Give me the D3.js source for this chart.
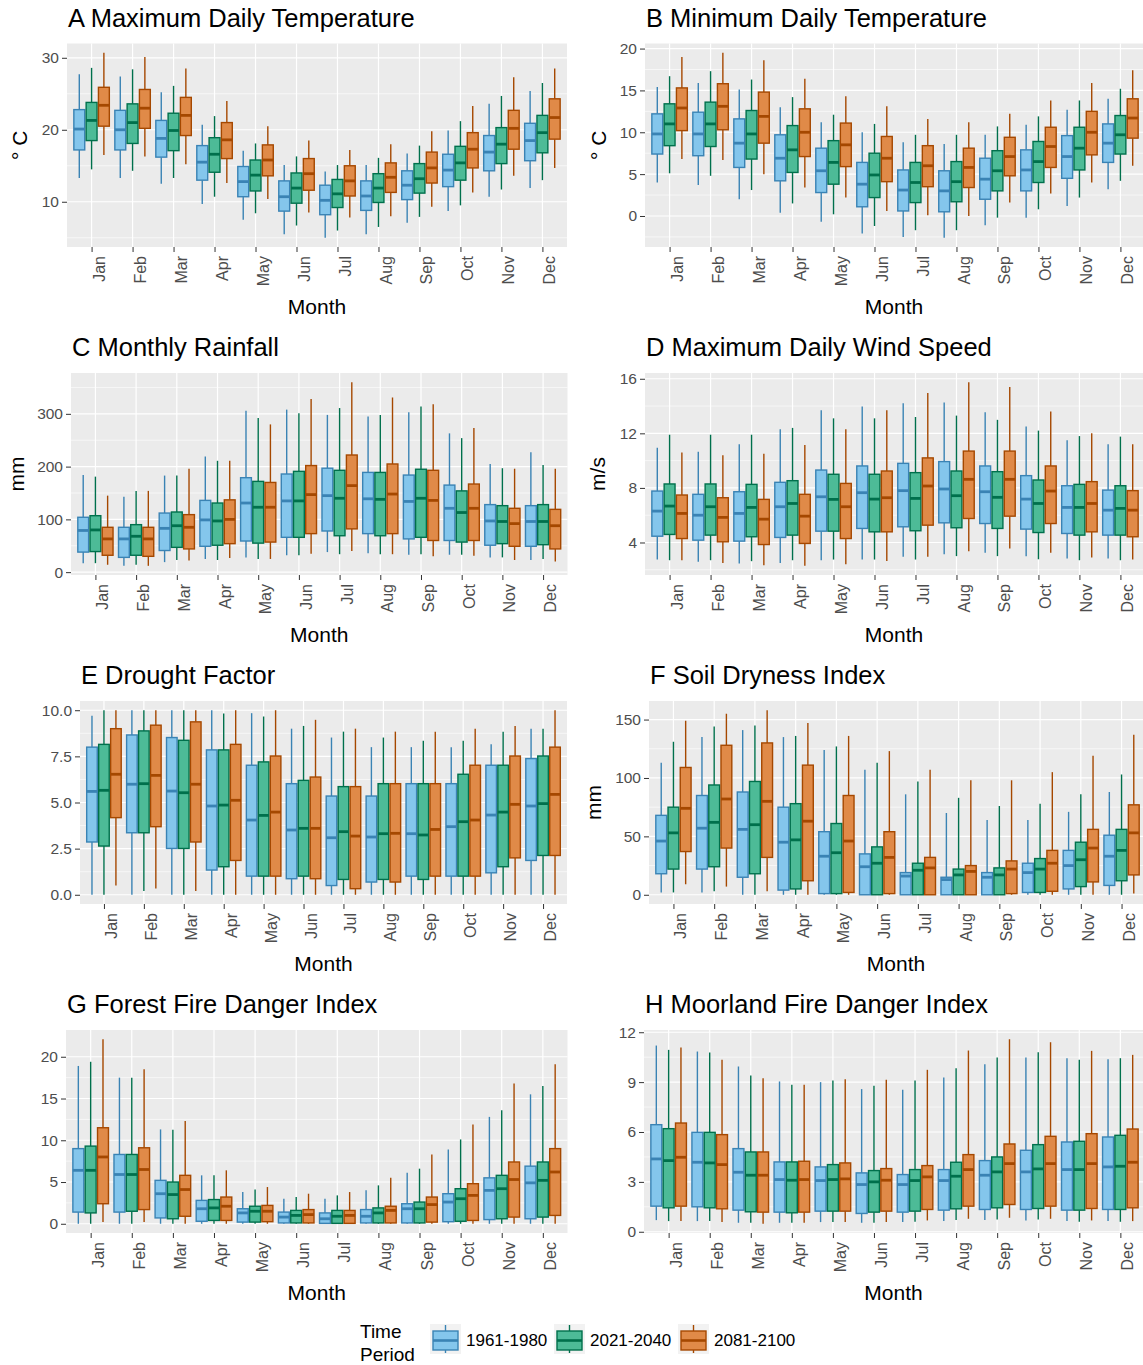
<!DOCTYPE html>
<html>
<head>
<meta charset="utf-8">
<script src="https://cdn.jsdelivr.net/npm/d3@7"></script>
<style>
body { margin: 0; background: #fff; }
text { font-family: "Liberation Sans", Arial, Helvetica, sans-serif; }
</style>
</head>
<body>
<script>
const months = ["Jan","Feb","Mar","Apr","May","Jun","Jul","Aug","Sep","Oct","Nov","Dec"];
const periods = ["1961-1980","2021-2040","2081-2100"];

// every box is [min, q1, median, q3, max], 12 months per period
const tmax = [
  [[13.3,17.2,20.1,22.8,27.7],[13.3,17.2,20.0,22.7,27.4],[12.5,16.2,18.8,21.3,25.2],[9.7,13.0,15.5,17.8,20.7],[7.5,10.7,12.8,14.9,17.1],[5.5,8.7,10.7,12.9,15.1],[5.0,8.2,10.2,12.3,14.2],[5.5,8.8,10.8,12.9,15.1],[7.1,10.3,12.3,14.3,16.7],[8.7,12.1,14.4,16.6,19.9],[10.7,14.3,16.9,19.2,23.6],[11.9,15.7,18.5,20.9,25.4]],
  [[14.5,18.5,21.3,23.8,28.6],[14.3,18.1,21.0,23.6,28.4],[13.3,17.1,19.9,22.3,26.1],[10.7,14.1,16.6,18.9,21.9],[8.4,11.5,13.7,15.8,18.1],[6.7,9.8,11.9,14.0,16.3],[6.0,9.2,11.1,13.1,15.1],[6.5,9.9,11.9,13.9,16.1],[7.9,11.2,13.2,15.3,17.8],[9.5,13.0,15.4,17.7,21.2],[11.7,15.3,18.0,20.3,24.7],[13.0,16.8,19.6,22.0,26.5]],
  [[16.5,20.5,23.4,25.9,30.7],[16.3,20.2,23.0,25.6,30.1],[15.2,19.2,22.0,24.5,28.5],[12.6,16.0,18.6,21.0,24.0],[10.4,13.6,15.8,17.9,20.5],[8.5,11.6,13.9,16.0,18.5],[7.8,10.8,12.9,15.0,17.2],[8.0,11.3,13.4,15.4,18.0],[9.3,12.6,14.7,16.9,19.8],[11.3,14.7,17.3,19.6,23.3],[13.6,17.3,20.2,22.7,27.3],[14.7,18.7,21.7,24.3,28.5]]
];
const tmin = [
  [[4.0,7.4,9.8,12.2,15.4],[3.7,7.2,9.8,12.4,15.9],[2.0,5.8,8.7,11.6,15.1],[0.4,4.2,6.9,9.7,13.0],[-0.7,2.8,5.4,8.1,11.2],[-2.1,1.1,3.8,6.4,10.0],[-2.5,0.6,3.1,5.5,8.8],[-2.6,0.5,3.0,5.4,8.6],[-1.1,2.0,4.4,6.9,9.7],[-0.2,3.0,5.5,7.9,10.9],[1.2,4.5,7.1,9.6,12.7],[3.2,6.4,8.7,11.0,14.0]],
  [[5.1,8.4,11.0,13.4,16.7],[4.8,8.3,11.0,13.6,17.3],[3.1,6.8,9.8,12.6,16.3],[1.5,5.2,7.9,10.8,14.2],[0.2,3.8,6.4,9.0,12.1],[-1.2,2.2,4.9,7.5,11.0],[-1.7,1.6,4.0,6.4,9.7],[-1.7,1.7,4.1,6.5,9.7],[-0.2,3.0,5.4,7.8,10.7],[0.8,4.0,6.5,8.9,11.9],[2.2,5.5,8.1,10.6,13.8],[4.2,7.4,9.7,12.0,15.2]],
  [[6.8,10.2,12.9,15.3,19.0],[6.7,10.3,13.1,15.8,19.5],[5.0,8.7,11.9,14.8,18.6],[3.4,7.1,10.0,12.8,16.4],[2.2,5.9,8.5,11.1,14.3],[0.6,4.1,6.9,9.5,13.1],[0.1,3.5,6.0,8.4,11.6],[0.0,3.4,5.8,8.1,11.2],[1.6,4.8,7.1,9.4,12.2],[2.7,5.8,8.3,10.6,13.8],[4.0,7.3,10.0,12.5,15.9],[6.0,9.3,11.7,14.0,17.4]]
];
const rain = [
  [[17,38,79,104,184],[12,28,63,85,143],[19,41,83,112,183],[25,49,99,136,219],[28,59,131,179,306],[32,66,135,186,308],[38,78,145,197,298],[36,73,139,189,295],[33,63,134,184,303],[33,60,121,165,263],[28,51,97,128,205],[23,49,96,126,227]],
  [[17,39,80,107,181],[14,32,68,90,154],[23,47,88,114,183],[23,51,97,131,211],[25,55,123,172,292],[32,66,135,191,301],[34,69,140,193,311],[34,69,138,189,298],[34,66,140,195,314],[33,57,113,154,254],[28,54,96,126,197],[25,52,96,128,203]],
  [[14,32,63,85,145],[12,30,63,85,154],[22,44,85,109,196],[27,54,100,137,211],[25,57,123,170,280],[35,73,147,202,328],[40,82,164,222,360],[34,73,148,205,331],[30,60,136,193,318],[31,60,121,167,273],[23,49,92,121,196],[20,44,88,119,196]]
];
const wind = [
  [[2.75,4.46,6.30,7.77,10.95],[2.58,4.17,6.0,7.53,10.66],[2.46,4.10,6.13,7.72,11.2],[2.5,4.37,6.62,8.41,12.3],[2.7,4.83,7.35,9.31,13.7],[2.75,5.03,7.65,9.61,13.97],[2.95,5.15,7.80,9.80,14.2],[3.14,5.44,7.92,9.93,14.26],[3.24,5.39,7.72,9.61,13.55],[3.0,4.98,7.18,8.9,12.5],[2.82,4.66,6.57,8.16,11.5],[2.82,4.54,6.37,7.84,11.2]],
  [[2.7,4.59,6.67,8.29,11.9],[2.7,4.54,6.62,8.29,11.9],[2.63,4.42,6.57,8.26,11.9],[2.7,4.54,6.86,8.53,12.4],[2.75,4.83,7.16,9.0,13.1],[2.75,4.78,7.18,9.0,13.1],[2.75,4.86,7.23,9.12,13.2],[3.0,5.08,7.43,9.24,13.3],[3.0,5.03,7.31,9.19,12.99],[2.77,4.73,6.86,8.58,12.2],[2.7,4.54,6.57,8.26,11.8],[2.7,4.54,6.5,8.16,11.76]],
  [[2.7,4.29,6.13,7.48,10.6],[2.5,4.05,5.84,7.28,10.4],[2.33,3.85,5.71,7.16,10.5],[2.29,3.93,5.93,7.53,11.15],[2.41,4.29,6.62,8.33,12.3],[2.65,4.78,7.28,9.24,13.7],[2.95,5.27,8.14,10.2,14.95],[3.36,5.76,8.63,10.7,15.75],[3.56,5.93,8.63,10.7,15.4],[3.24,5.39,7.77,9.61,13.6],[2.9,4.78,6.86,8.46,12.0],[2.75,4.42,6.37,7.8,11.2]]
];
const drought = [
  [[0,2.86,5.6,8.0,9.7],[0,3.36,5.99,8.66,10],[0,2.51,5.62,8.52,10],[0,1.34,4.81,7.85,10],[0,1.01,4.05,7.02,9.84],[0,0.87,3.51,6.02,9.0],[0,0.5,3.09,5.35,8.52],[0,0.69,3.13,5.35,8.0],[0,1.01,3.31,6.02,8.0],[0,1.01,3.69,6.02,8.0],[0,1.19,4.32,7.02,8.16],[0,1.86,4.81,7.38,9.0]],
  [[0,2.64,5.66,8.15,10],[0.2,3.36,6.02,8.88,10],[0,2.51,5.53,8.37,10],[0,1.52,4.86,7.85,9.82],[0,1.01,4.30,7.2,9.66],[0,1.01,3.60,6.2,9.15],[0,0.83,3.42,5.86,8.84],[0,0.83,3.31,6.02,8.52],[0,0.83,3.24,6.02,8.34],[0,1.01,3.96,6.53,8.34],[0,1.52,4.48,7.02,8.84],[0,2.13,4.94,7.52,9.0]],
  [[0.5,4.18,6.53,9.0,10],[0.34,3.69,6.47,9.19,10],[0.2,2.86,5.99,9.37,10],[0,1.86,5.12,8.15,10],[0,1.01,4.48,7.52,10],[0,0.87,3.60,6.38,9.48],[0,0.33,3.18,5.86,9.0],[0,0.69,3.33,6.02,8.84],[0,1.01,3.54,6.02,8.84],[0,1.01,4.05,7.02,9.0],[0,2.0,4.9,7.52,9.15],[0,2.13,5.44,8.0,10]]
];
const soil = [
  [[2,18,46,68,113],[2,22,57,85,135],[0,15,56,88,141],[0,4,45,75,135],[0,1,33,54,124],[0,0,24,35,107],[0,0,16,19,86],[0,0,13,15,70],[0,0,15,19,64],[0,2,19,27,64],[0,5,25,38,71],[0,8,33,51,88]],
  [[2,22,53,75,131],[3,24,62,94,144],[0,18,60,97,145],[0,5,47,78,136],[0,1,36,61,127],[0,0,27,41,113],[0,0,21,27,97],[0,0,17,22,83],[0,0,17,23,76],[0,2,22,31,78],[0,7,30,45,86],[0,12,38,56,103]],
  [[9,37,74,109,149],[7,40,82,128,155],[3,32,80,130,158],[0,12,63,111,147],[0,2,46,85,136],[0,1,32,54,123],[0,0,23,32,107],[0,0,20,25,98],[0,1,22,29,98],[0,3,27,38,105],[0,11,40,56,119],[1,17,53,77,137]]
];
const ffdi = [
  [[0,1.4,6.4,9.0,18.9],[0,1.4,5.9,8.3,17.5],[0,0.7,3.6,5.2,11.3],[0,0.3,1.8,2.8,5.8],[0,0.2,1.3,1.8,3.8],[0,0.1,0.8,1.4,3.0],[0,0.05,0.6,1.3,3.0],[0,0.1,0.9,1.7,4.0],[0,0.1,1.8,2.4,6.1],[0,0.25,2.6,3.6,8.9],[0,0.5,4.0,5.5,12.8],[0,0.6,4.9,6.9,15.5]],
  [[0,1.3,6.4,9.3,19.4],[0,1.5,5.9,8.3,17.5],[0,0.6,3.5,5.0,11.25],[0,0.4,1.9,2.9,5.8],[0,0.2,1.5,2.1,4.1],[0,0.1,1.0,1.6,3.2],[0,0.05,0.9,1.6,3.4],[0,0.1,1.3,1.9,4.6],[0,0.1,1.8,2.6,6.6],[0,0.3,3.0,4.2,10.1],[0,0.6,4.2,5.8,13.6],[0,0.8,5.2,7.4,16.5]],
  [[0.2,2.4,8.0,11.5,22.1],[0.2,1.7,6.5,9.1,18.5],[0,0.9,4.1,5.8,12.3],[0,0.4,2.1,3.2,6.4],[0,0.25,1.5,2.2,4.4],[0,0.1,1.1,1.7,3.6],[0,0.05,1.0,1.6,3.8],[0,0.1,1.6,2.1,5.5],[0,0.2,2.3,3.2,8.3],[0,0.4,3.4,4.8,11.9],[0,0.8,5.3,7.4,16.8],[0,1.0,6.2,9.0,19.1]]
];
const mfdi = [
  [[0.7,1.54,4.38,6.44,11.2],[0.64,1.5,4.18,5.98,10.84],[0.54,1.3,3.58,5.0,9.94],[0.54,1.18,3.14,4.2,9.04],[0.58,1.24,3.08,3.9,9.0],[0.54,1.1,2.84,3.54,8.58],[0.58,1.18,2.84,3.44,8.54],[0.64,1.3,3.08,3.74,9.28],[0.7,1.34,3.4,4.28,10.08],[0.68,1.34,3.6,4.9,10.48],[0.64,1.3,3.74,5.4,10.44],[0.64,1.34,3.9,5.7,10.38]],
  [[0.64,1.44,4.28,6.2,10.94],[0.64,1.44,4.14,5.98,10.78],[0.54,1.2,3.4,4.8,9.4],[0.54,1.14,3.1,4.2,8.84],[0.58,1.24,3.14,4.04,9.1],[0.54,1.18,3.0,3.68,8.78],[0.6,1.24,3.08,3.74,9.1],[0.7,1.38,3.34,4.18,9.84],[0.74,1.44,3.6,4.5,10.48],[0.74,1.4,3.78,5.24,10.8],[0.6,1.3,3.74,5.44,10.34],[0.6,1.34,3.94,5.8,10.44]],
  [[0.64,1.54,4.48,6.54,11.08],[0.58,1.38,4.04,5.84,10.34],[0.48,1.18,3.4,4.8,9.24],[0.54,1.18,3.14,4.24,8.84],[0.58,1.24,3.18,4.14,9.18],[0.58,1.24,3.1,3.8,9.14],[0.68,1.34,3.3,3.98,9.74],[0.78,1.54,3.74,4.64,10.9],[0.84,1.64,4.1,5.28,11.58],[0.78,1.54,4.1,5.74,11.4],[0.68,1.4,4.1,5.9,10.88],[0.64,1.44,4.18,6.18,10.64]]
];

const fills = ["#84c6ec", "#4dbb97", "#e08a48"];
const strokes = ["#3a83b4", "#00704c", "#a54800"];

const width = 1143, height = 1365;

let svg = d3.select("body").append("svg")
    .attr("width", width)
    .attr("height", height);

const panels = [
  {title: "A Maximum Daily Temperature", ylab: "° C", ylabX: 27, data: tmax, ticks: [10,20,30], minor: [5,15,25], x0: 67, x1: 567, y0: 43.5, y1: 247},
  {title: "B Minimum Daily Temperature", ylab: "° C", ylabX: 606, data: tmin, ticks: [0,5,10,15,20], minor: [-2.5,2.5,7.5,12.5,17.5], x0: 645, x1: 1145, y0: 43.5, y1: 247},
  {title: "C Monthly Rainfall", ylab: "mm", ylabX: 24, data: rain, ticks: [0,100,200,300], minor: [50,150,250,350], x0: 71, x1: 567.5, y0: 373, y1: 575},
  {title: "D Maximum Daily Wind Speed", ylab: "m/s", ylabX: 605, data: wind, ticks: [4,8,12,16], minor: [2,6,10,14], x0: 645, x1: 1145, y0: 373, y1: 575},
  {title: "E Drought Factor", ylab: "", ylabX: 0, data: drought, ticks: [0,2.5,5,7.5,10], minor: [1.25,3.75,6.25,8.75], fmt: ".1f", x0: 80, x1: 567, y0: 701, y1: 904},
  {title: "F Soil Dryness Index", ylab: "mm", ylabX: 601, data: soil, ticks: [0,50,100,150], minor: [25,75,125], x0: 649, x1: 1146, y0: 701, y1: 904},
  {title: "G Forest Fire Danger Index", ylab: "", ylabX: 0, data: ffdi, ticks: [0,5,10,15,20], minor: [2.5,7.5,12.5,17.5], x0: 66, x1: 567.5, y0: 1030, y1: 1233},
  {title: "H Moorland Fire Danger Index", ylab: "", ylabX: 0, data: mfdi, ticks: [0,3,6,9,12], minor: [1.5,4.5,7.5,10.5], x0: 644, x1: 1145, y0: 1030, y1: 1233}
];

function drawPanel(p) {
  const g = svg.append("g");

  const all = p.data.flat(2);
  const lo = d3.min(all), hi = d3.max(all), pad = (hi - lo) * 0.05;
  const y = d3.scaleLinear().domain([lo - pad, hi + pad]).range([p.y1, p.y0]);
  const x = d3.scalePoint().domain(months).range([p.x0, p.x1]).padding(0.6);
  const dodge = d3.scaleBand().domain(periods).range([-0.45 * x.step(), 0.45 * x.step()]);
  const bw = dodge.bandwidth();

  g.append("rect")
    .attr("x", p.x0).attr("y", p.y0)
    .attr("width", p.x1 - p.x0).attr("height", p.y1 - p.y0)
    .attr("fill", "#ebebeb");

  g.selectAll(".minor").data(p.minor).join("line")
    .attr("x1", p.x0).attr("x2", p.x1)
    .attr("y1", d => y(d)).attr("y2", d => y(d))
    .attr("stroke", "#fff").attr("stroke-width", 0.6);

  g.selectAll(".major").data(p.ticks).join("line")
    .attr("x1", p.x0).attr("x2", p.x1)
    .attr("y1", d => y(d)).attr("y2", d => y(d))
    .attr("stroke", "#fff").attr("stroke-width", 1.2);

  g.selectAll(".vgrid").data(months).join("line")
    .attr("x1", d => x(d)).attr("x2", d => x(d))
    .attr("y1", p.y0).attr("y2", p.y1)
    .attr("stroke", "#fff").attr("stroke-width", 1.2);

  p.data.forEach((series, i) => {
    const boxes = series.map((b, j) => ({
      cx: x(months[j]) + dodge(periods[i]) + bw / 2,
      b: b
    }));
    const bg = g.append("g");
    const sel = bg.selectAll("g").data(boxes).join("g");
    sel.append("line")
      .attr("x1", d => d.cx).attr("x2", d => d.cx)
      .attr("y1", d => y(d.b[4])).attr("y2", d => y(d.b[3]))
      .attr("stroke", strokes[i]).attr("stroke-width", 1.4);
    sel.append("line")
      .attr("x1", d => d.cx).attr("x2", d => d.cx)
      .attr("y1", d => y(d.b[1])).attr("y2", d => y(d.b[0]))
      .attr("stroke", strokes[i]).attr("stroke-width", 1.4);
    sel.append("rect")
      .attr("x", d => d.cx - bw / 2 + 0.7)
      .attr("width", bw - 1.4)
      .attr("y", d => y(d.b[3]))
      .attr("height", d => Math.max(0, y(d.b[1]) - y(d.b[3])))
      .attr("fill", fills[i])
      .attr("stroke", strokes[i]).attr("stroke-width", 1.4);
    sel.append("line")
      .attr("x1", d => d.cx - bw / 2 + 0.7).attr("x2", d => d.cx + bw / 2 - 0.7)
      .attr("y1", d => y(d.b[2])).attr("y2", d => y(d.b[2]))
      .attr("stroke", strokes[i]).attr("stroke-width", 2.8);
  });

  // axes
  const yAxis = g.append("g")
    .attr("transform", `translate(${p.x0},0)`)
    .call(d3.axisLeft(y).tickValues(p.ticks).tickSize(5).tickPadding(3)
      .tickFormat(p.fmt ? d3.format(p.fmt) : d3.format("d")));
  yAxis.select(".domain").remove();
  yAxis.selectAll("line").attr("stroke", "#333");
  yAxis.selectAll("text").attr("fill", "#4d4d4d").style("font-size", "15.5px");

  const xAxis = g.append("g")
    .attr("transform", `translate(0,${p.y1})`)
    .call(d3.axisBottom(x).tickSize(5));
  xAxis.select(".domain").remove();
  xAxis.selectAll("line").attr("stroke", "#333");
  xAxis.selectAll("text")
    .attr("fill", "#4d4d4d")
    .style("font-size", "16px")
    .style("text-anchor", "end")
    .attr("transform", "rotate(-90)")
    .attr("x", -9).attr("y", 1).attr("dy", "0.72em");

  g.append("text")
    .attr("x", p.x0 + 1).attr("y", p.y0 - 17)
    .style("font-size", "25.5px").attr("fill", "#000")
    .text(p.title);

  g.append("text")
    .attr("x", (p.x0 + Math.min(p.x1, width)) / 2).attr("y", p.y1 + 67)
    .attr("text-anchor", "middle")
    .style("font-size", "21px").attr("fill", "#000")
    .text("Month");

  if (p.ylab) {
    g.append("text")
      .attr("transform", `translate(${p.ylabX},${(p.y0 + p.y1) / 2}) rotate(-90)`)
      .attr("text-anchor", "middle")
      .style("font-size", "21px").attr("fill", "#000")
      .text(p.ylab);
  }
}

panels.forEach(drawPanel);

// legend
const legend = svg.append("g");
legend.append("text").attr("x", 360).attr("y", 1338).style("font-size", "19px").text("Time");
legend.append("text").attr("x", 360).attr("y", 1361).style("font-size", "19px").text("Period");

const keyX = [430, 554, 678];
const labelX = [466, 590, 714];
periods.forEach((per, i) => {
  const k = legend.append("g").attr("transform", `translate(${keyX[i]},1324)`);
  k.append("rect").attr("width", 31).attr("height", 30).attr("fill", "#f2f2f2");
  k.append("line").attr("x1", 15.5).attr("x2", 15.5).attr("y1", 1).attr("y2", 29)
    .attr("stroke", strokes[i]).attr("stroke-width", 1.4);
  k.append("rect").attr("x", 3).attr("y", 7).attr("width", 25).attr("height", 19)
    .attr("fill", fills[i]).attr("stroke", strokes[i]).attr("stroke-width", 1.4);
  k.append("line").attr("x1", 3).attr("x2", 28).attr("y1", 16.5).attr("y2", 16.5)
    .attr("stroke", strokes[i]).attr("stroke-width", 2.6);
  legend.append("text").attr("x", labelX[i]).attr("y", 1346)
    .style("font-size", "17px").text(per);
});
</script>
</body>
</html>
